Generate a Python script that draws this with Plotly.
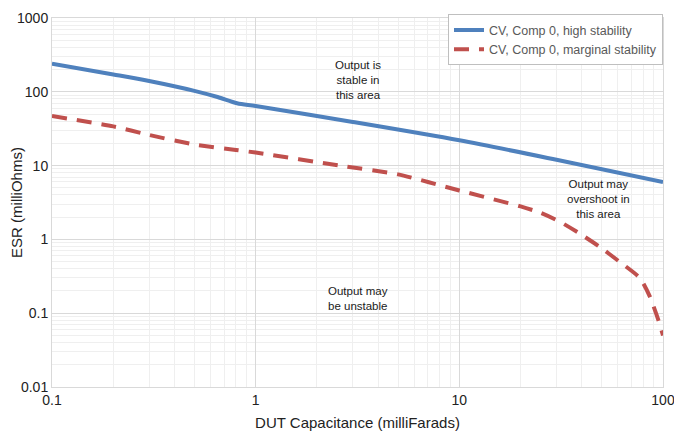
import math
import plotly.graph_objects as go

# DUT capacitance (mF) and ESR (mOhm)
cap_high = [0.1, 0.2, 0.3, 0.5, 0.65, 0.81, 1, 3, 10, 30, 100]
esr_high = [241, 172, 140, 103, 85, 70, 64, 39, 22, 12, 6]

cap_marg = [0.1, 0.2, 0.3, 0.5, 0.8, 1, 2.6, 5, 10, 20, 25, 31, 39, 49, 61, 77, 86, 95, 100]
esr_marg = [47, 34, 26, 19.3, 16.3, 15, 10, 7.6, 4.6, 2.8, 2.3, 1.75, 1.2, 0.79, 0.5, 0.3, 0.17, 0.08, 0.05]

x_ticks = [0.1, 1, 10, 100]
x_labels = ["0.1", "1", "10", "100"]
y_ticks = [0.01, 0.1, 1, 10, 100, 1000]
y_labels = ["0.01", "0.1", "1", "10", "100", "1000"]

notes = [
    (3.18, 143, "Output is<br>stable in<br>this area"),
    (48, 3.5, "Output may<br>overshoot in<br>this area"),
    (3.18, 0.16, "Output may<br>be unstable"),
]

def minor_vals(lo, hi):
    vals = []
    d = lo
    while d < hi:
        vals += [d * k for k in range(2, 10)]
        d *= 10
    return vals

fig = go.Figure()
fig.add_trace(go.Scatter(
    x=cap_high, y=esr_high, mode="lines",
    line=dict(color="#4f81bd", width=4, shape="spline", smoothing=0.8),
    name="CV, Comp 0, high stability"
))
fig.add_trace(go.Scatter(
    x=cap_marg, y=esr_marg, mode="lines",
    line=dict(color="#c0504d", width=4, dash="15px,10px", shape="spline", smoothing=0.6),
    name="CV, Comp 0, marginal stability"
))

# annotations on log axes take log10 positions
for x, y, t in notes:
    fig.add_annotation(x=math.log10(x), y=math.log10(y), xref="x", yref="y", text=t,
                       showarrow=False, font=dict(size=11.5, color="#1a1a1a"), align="center")

fig.update_xaxes(
    type="log", range=[-1, 2], tickvals=x_ticks, ticktext=x_labels,
    showgrid=True, gridcolor="#d9d9d9", gridwidth=1,
    minor=dict(tickvals=minor_vals(0.1, 100), showgrid=True, gridcolor="#efefef", gridwidth=1),
    showline=True, linecolor="#d9d9d9", mirror=True, zeroline=False,
    ticks="", ticklen=0, tickfont=dict(size=14, color="#222"), automargin=False,
    title=dict(text="DUT Capacitance (milliFarads)", font=dict(size=15, color="#222"), standoff=10),
)
fig.update_yaxes(
    type="log", range=[-2, 3], tickvals=y_ticks, ticktext=y_labels,
    showgrid=True, gridcolor="#d9d9d9", gridwidth=1,
    minor=dict(tickvals=minor_vals(0.01, 1000), showgrid=True, gridcolor="#efefef", gridwidth=1),
    showline=True, linecolor="#d9d9d9", mirror=True, zeroline=False,
    ticks="", ticklen=0, tickfont=dict(size=14, color="#222"), automargin=False,
    title=dict(text="ESR (milliOhms)", font=dict(size=15, color="#222"), standoff=4),
)

# page body has an 8px margin, so the figure is sized to fit inside it
fig.update_layout(
    width=674, height=431,
    margin=dict(l=44, r=19, t=6, b=52),
    plot_bgcolor="white", paper_bgcolor="white",
    font=dict(family="Liberation Sans, Arial, sans-serif"),
    showlegend=True,
    legend=dict(x=1, xanchor="right", y=1.01, yanchor="top",
                bgcolor="white", bordercolor="#bfbfbf", borderwidth=1,
                font=dict(size=12.5, color="#595959"), tracegroupgap=0),
)

fig.write_html("out.html")
